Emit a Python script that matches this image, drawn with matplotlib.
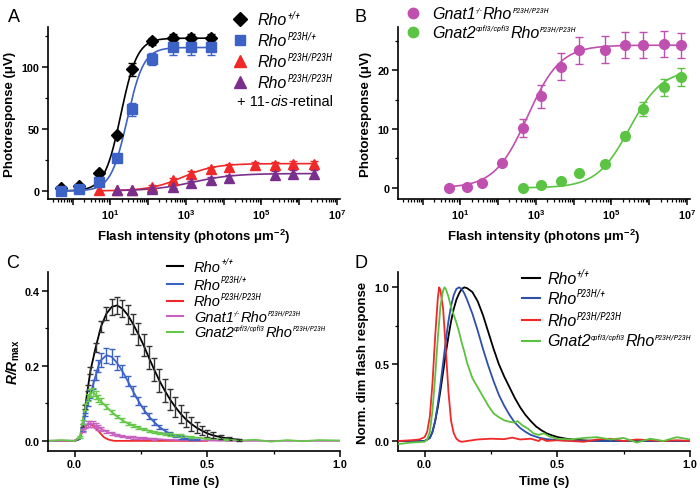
import numpy as np
import matplotlib
matplotlib.use("Agg")
import matplotlib.pyplot as plt
from matplotlib.lines import Line2D
from matplotlib.font_manager import FontProperties, fontManager
from matplotlib.ticker import LogLocator, FuncFormatter, FixedLocator, NullFormatter

plt.rcParams['font.family'] = ['Liberation Sans', 'DejaVu Sans']
plt.rcParams['font.weight'] = 'bold'
plt.rcParams['mathtext.fontset'] = 'custom'
plt.rcParams['mathtext.rm'] = 'Liberation Sans'
plt.rcParams['mathtext.it'] = 'Liberation Sans:italic'
plt.rcParams['mathtext.bf'] = 'Liberation Sans:bold'
plt.rcParams['mathtext.bfit'] = 'Liberation Sans:italic:bold'

# ---------------- Panel A data ----------------
intensity_A = [0.48, 1.45, 5, 15, 37, 126, 450, 1350, 4500]
black_A = [2.4, 3.8, 14.5, 45, 97.8, 120.5, 123, 123, 123]
black_A_err = [0, 0, 0, 2, 5, 3, 3, 3, 3]
blue_A = [0.3, 1.6, 7.5, 26.6, 65.6, 106, 115.5, 115.5, 115.5]
blue_A_err = [0, 0, 0, 2, 5, 5, 6, 6, 6]
intensity_red = [5, 15, 37, 126, 450, 1350, 4500, 13500, 66000, 2.3e5, 7e5, 2.4e6]
red_A = [0.5, 0.5, 0.5, 3.5, 9, 14, 17.5, 19.5, 21, 21, 22, 22]
red_A_err = [0, 0, 0, 1, 1.5, 2, 2, 2, 2, 2, 2, 2]
intensity_purple = [15, 37, 126, 450, 1350, 4500, 13500, 2.3e5, 7e5, 2.4e6]
purple_A = [0.5, 0.5, 1.5, 3.5, 6, 9, 10.5, 13, 13.5, 14]
purple_A_err = [0, 0, 1, 1.5, 2, 2.5, 2.5, 3, 3, 3]
# Hill fit parameters: (Rmax, I_half, n)
fit_black_A = (123, 19, 2.0)
fit_blue_A = (115.5, 28, 2.0)
fit_red_A = (22, 800, 1.0)
fit_purple_A = (14, 1500, 0.8)

# ---------------- Panel B data ----------------
intensity_B = [5, 15, 37, 126, 450, 1350, 4500, 13500, 66000, 2.3e5, 7e5, 2.4e6, 7e6]
magenta_B = [0.0, 0.1, 0.8, 4.3, 10.2, 15.6, 20.6, 23.4, 23.5, 24.3, 24.3, 24.5, 24.3]
magenta_B_err = [0, 0, 0, 0.4, 1.5, 2.0, 2.3, 2.3, 2.3, 2.2, 2.2, 2.2, 2.1]
intensity_green = [450, 1350, 4500, 13500, 66000, 2.3e5, 7e5, 2.4e6, 7e6]
green_B = [0.0, 0.5, 1.1, 2.5, 4.1, 8.8, 13.5, 17.1, 18.9]
green_B_err = [0, 0, 0, 0, 0.3, 0.7, 1.2, 1.5, 1.5]
fit_magenta_B = (24.3, 600, 1.0)
fit_green_B = (20.2, 3e5, 1.0)

# ---------------- Panel C data ----------------
tC_black = [-0.10, 0.00, 0.02, 0.03, 0.04, 0.05, 0.06, 0.08, 0.10, 0.12, 0.14, 0.16, 0.18, 0.20, 0.22, 0.24,
            0.26, 0.28, 0.30, 0.32, 0.34, 0.36, 0.38, 0.40, 0.42, 0.44, 0.46, 0.48, 0.50, 0.52, 0.55, 0.58, 0.62]
C_black = [0.0, 0.0, 0.005, 0.04, 0.09, 0.14, 0.187, 0.25, 0.305, 0.339, 0.357, 0.361, 0.353, 0.336, 0.312,
           0.285, 0.255, 0.222, 0.19, 0.16, 0.134, 0.11, 0.09, 0.072, 0.057, 0.045, 0.035, 0.027, 0.02, 0.015,
           0.01, 0.006, 0.003]
C_black_err = [0, 0, 0, 0.004, 0.006, 0.008, 0.01, 0.012, 0.015, 0.018, 0.021, 0.022, 0.023, 0.025, 0.027,
               0.029, 0.03, 0.031, 0.031, 0.031, 0.03, 0.029, 0.027, 0.024, 0.021, 0.018, 0.015, 0.012, 0.01,
               0.008, 0.006, 0.004, 0.003]
tC_blue = [-0.10, 0.00, 0.02, 0.03, 0.04, 0.05, 0.06, 0.07, 0.08, 0.09, 0.10, 0.12, 0.14, 0.16, 0.18, 0.20,
           0.22, 0.24, 0.26, 0.28, 0.30, 0.32, 0.34, 0.36, 0.38, 0.40, 0.42, 0.44, 0.46]
C_blue = [0.0, 0.0, 0.005, 0.03, 0.07, 0.1, 0.125, 0.15, 0.175, 0.2, 0.215, 0.228, 0.224, 0.208, 0.186, 0.16,
          0.133, 0.107, 0.084, 0.065, 0.05, 0.037, 0.027, 0.019, 0.013, 0.009, 0.006, 0.004, 0.003]
C_blue_err = [0, 0, 0, 0.003, 0.005, 0.008, 0.01, 0.012, 0.014, 0.016, 0.018, 0.02, 0.02, 0.018, 0.016, 0.014,
              0.013, 0.011, 0.01, 0.008, 0.007, 0.006, 0.005, 0.004, 0.003, 0.003, 0.002, 0.002, 0.002]
tC_red = [-0.10, 0.00, 0.02, 0.03, 0.04, 0.05, 0.06, 0.07, 0.08, 0.09, 0.10, 0.11, 0.12, 0.13, 0.15, 0.30, 0.50]
C_red = [0.0, 0.0, 0.01, 0.025, 0.038, 0.044, 0.045, 0.04, 0.033, 0.026, 0.018, 0.01, 0.006, 0.003, 0.0, 0.0, 0.0]
tC_magenta = [-0.10, 0.00, 0.02, 0.03, 0.04, 0.05, 0.06, 0.07, 0.08, 0.09, 0.10, 0.12, 0.14, 0.16, 0.18, 0.20,
              0.22, 0.24, 0.26, 0.28, 0.30, 0.35, 0.40, 0.50, 0.60, 0.80, 1.00]
C_magenta = [0.0, 0.0, 0.01, 0.028, 0.04, 0.045, 0.046, 0.044, 0.04, 0.036, 0.032, 0.025, 0.02, 0.016, 0.012,
             0.01, 0.009, 0.008, 0.007, 0.006, 0.005, 0.003, 0.002, 0.001, 0.0, 0.0, 0.0]
C_magenta_err = [0, 0, 0, 0.004, 0.006, 0.007, 0.008, 0.008, 0.007, 0.006, 0.005, 0.004, 0.004, 0.003, 0.003,
                 0.003, 0.003, 0.002, 0.002, 0.002, 0.002, 0, 0, 0, 0, 0, 0]
tC_green = [-0.10, -0.05, 0.00, 0.02, 0.03, 0.04, 0.05, 0.06, 0.07, 0.08, 0.09, 0.10, 0.12, 0.14, 0.16, 0.18,
            0.20, 0.22, 0.24, 0.26, 0.28, 0.30, 0.32, 0.34, 0.36, 0.38, 0.40, 0.44, 0.50, 0.57, 0.62, 0.68,
            0.74, 0.80, 0.86, 0.92, 1.00]
C_green = [0.0, 0.002, 0.0, 0.01, 0.05, 0.09, 0.115, 0.127, 0.13, 0.122, 0.113, 0.105, 0.091, 0.077, 0.065,
           0.055, 0.047, 0.041, 0.035, 0.031, 0.027, 0.024, 0.021, 0.019, 0.017, 0.016, 0.014, 0.01, 0.006,
           0.004, 0.001, 0.003, -0.002, 0.002, -0.001, 0.002, 0.001]
C_green_err = [0, 0, 0, 0.003, 0.006, 0.008, 0.01, 0.011, 0.011, 0.01, 0.009, 0.008, 0.007, 0.006, 0.005,
               0.005, 0.004, 0.004, 0.004, 0.003, 0.003, 0.003, 0.003, 0.003, 0.003, 0.003, 0.003, 0.003,
               0.002, 0.002, 0, 0, 0, 0, 0, 0, 0]

# ---------------- Panel D data ----------------
tD_black = [-0.10, 0.00, 0.02, 0.03, 0.04, 0.05, 0.06, 0.07, 0.08, 0.09, 0.10, 0.11, 0.12, 0.13, 0.14, 0.15,
            0.16, 0.18, 0.20, 0.22, 0.24, 0.26, 0.28, 0.30, 0.32, 0.34, 0.36, 0.38, 0.40, 0.42, 0.44, 0.46,
            0.48, 0.50, 0.53, 0.56, 0.60, 0.65, 0.70, 1.00]
D_black = [0.0, 0.0, 0.02, 0.06, 0.13, 0.22, 0.33, 0.45, 0.57, 0.68, 0.78, 0.86, 0.92, 0.96, 0.99, 1.0, 0.995,
           0.97, 0.91, 0.82, 0.71, 0.60, 0.50, 0.42, 0.35, 0.28, 0.22, 0.17, 0.13, 0.095, 0.07, 0.05, 0.037,
           0.026, 0.016, 0.009, 0.004, 0.001, 0.0, 0.0]
tD_blue = [-0.10, 0.00, 0.02, 0.03, 0.04, 0.05, 0.06, 0.07, 0.08, 0.09, 0.10, 0.11, 0.12, 0.13, 0.14, 0.15,
           0.16, 0.18, 0.20, 0.22, 0.24, 0.26, 0.28, 0.30, 0.32, 0.34, 0.36, 0.38, 0.40, 0.43, 0.46, 0.50,
           0.55, 0.60, 1.00]
D_blue = [0.0, 0.0, 0.02, 0.06, 0.13, 0.24, 0.37, 0.51, 0.65, 0.78, 0.88, 0.95, 0.99, 1.0, 0.99, 0.96, 0.92,
          0.83, 0.72, 0.60, 0.49, 0.39, 0.30, 0.23, 0.17, 0.12, 0.085, 0.06, 0.04, 0.022, 0.012, 0.006,
          0.002, 0.0, 0.0]
tD_red = [-0.10, -0.05, -0.02, 0.00, 0.01, 0.02, 0.03, 0.04, 0.05, 0.055, 0.06, 0.07, 0.08, 0.09, 0.10, 0.11,
          0.12, 0.13, 0.14, 0.16, 0.20, 0.25, 0.30, 0.33, 0.36, 0.40, 0.43, 0.44, 0.46, 0.50, 0.55, 0.60,
          0.65, 0.70, 0.75, 0.80, 0.85, 0.90, 0.95, 1.00]
D_red = [0.0, 0.005, 0.01, 0.025, 0.06, 0.16, 0.38, 0.68, 0.93, 1.0, 0.98, 0.86, 0.6, 0.32, 0.13, 0.05, 0.015,
         0.0, -0.005, 0.0, 0.01, 0.015, 0.012, 0.022, 0.01, 0.015, 0.0, 0.015, 0.0, 0.005, 0.0, -0.005, 0.01,
         0.015, 0.0, 0.01, 0.005, 0.0, 0.005, 0.0]
tD_green = [-0.10, -0.05, 0.00, 0.01, 0.02, 0.03, 0.04, 0.05, 0.06, 0.07, 0.075, 0.08, 0.09, 0.10, 0.11, 0.12,
            0.13, 0.14, 0.15, 0.16, 0.17, 0.18, 0.19, 0.20, 0.22, 0.24, 0.26, 0.28, 0.30, 0.32, 0.34, 0.35,
            0.37, 0.39, 0.41, 0.43, 0.45, 0.47, 0.50, 0.55, 0.60, 0.65, 0.70, 0.75, 0.80, 0.85, 0.90, 0.95, 1.00]
D_green = [-0.02, -0.01, -0.005, 0.01, 0.06, 0.2, 0.42, 0.67, 0.88, 0.98, 1.0, 0.99, 0.94, 0.87, 0.82, 0.77,
           0.71, 0.64, 0.58, 0.51, 0.46, 0.41, 0.38, 0.35, 0.29, 0.23, 0.18, 0.155, 0.135, 0.125, 0.12, 0.13,
           0.1, 0.08, 0.05, 0.04, 0.05, 0.03, 0.015, 0.01, 0.02, 0.025, 0.01, 0.02, -0.01, 0.015, 0.0, 0.025, 0.01]

# ---------------- colours ----------------
C_BLACK = '#000000'
C_BLUE = '#3d62c6'
C_RED = '#f02828'
C_PURPLE = '#7b2f8c'
C_MAGENTA = '#c050b0'
C_GREEN = '#5cc444'
C_MAG_C = '#c860c0'
C_GRN_C = '#66c84a'
D_BLUE_COL = '#2f4fa8'
D_GREEN = '#5cc040'

W, H = 700, 489
fig = plt.figure(figsize=(7.0, 4.89), dpi=100)
renderer = fig.canvas.get_renderer()


def find_narrow_italic():
    best, best_rank = None, 99
    order = ['Liberation Sans Narrow', 'Roboto Condensed', 'Open Sans Condensed', 'Noto Sans', 'DejaVu Sans']
    for f in fontManager.ttflist:
        st = f.stretch
        cond = ('Narrow' in f.name or 'Condensed' in f.name or
                st in ('condensed', 'semi-condensed', 'extra-condensed', 'ultra-condensed') or
                (isinstance(st, (int, float)) and st < 500))
        w = f.weight
        light_ok = (w in ('normal', 'regular', 'book', 'medium')) or (isinstance(w, (int, float)) and 350 <= w <= 500)
        if cond and f.style in ('italic', 'oblique') and light_ok:
            rank = next((i for i, n in enumerate(order) if f.name.startswith(n)), 50)
            if rank < best_rank:
                best, best_rank = f.fname, rank
    return best


NARROW_FILE = find_narrow_italic()


def sup_props(size):
    if NARROW_FILE:
        return FontProperties(fname=NARROW_FILE, size=size)
    return FontProperties(family='Liberation Sans', style='italic', weight='normal', size=size * 0.85)


def ax_px(left, top, right, bottom):
    return fig.add_axes([left / W, 1 - bottom / H, (right - left) / W, (bottom - top) / H])


def style_ax(ax):
    for s in ['top', 'right']:
        ax.spines[s].set_visible(False)
    for s in ['left', 'bottom']:
        ax.spines[s].set_linewidth(1.2)
    ax.tick_params(which='major', direction='out', length=4, width=1.1, labelsize=7.8, pad=2)
    ax.tick_params(which='minor', direction='out', length=2.2, width=0.9)


def hill(I, p):
    rmax, ih, n = p
    I = np.asarray(I, dtype=float)
    return rmax * I ** n / (I ** n + ih ** n)


def log_fmt(v, pos):
    e = int(round(np.log10(v)))
    if e % 2 == 1:
        return r'$\mathbf{10^{%d}}$' % e
    return ''


def log_axis(ax):
    ax.set_xscale('log')
    ax.set_xlim(10 ** -0.65, 10 ** 7.08)
    ax.xaxis.set_major_locator(FixedLocator([10.0 ** k for k in range(0, 8)]))
    ax.xaxis.set_major_formatter(FuncFormatter(log_fmt))
    ax.xaxis.set_minor_locator(LogLocator(base=10, subs=np.arange(2, 10), numticks=30))
    ax.xaxis.set_minor_formatter(NullFormatter())
    ax.set_xlabel(r'Flash intensity (photons μm$^{\mathbf{-2}}$)', fontsize=9.5, fontweight='bold', labelpad=4)


def fig_marker(xp, yp, **kw):
    fig.add_artist(Line2D([xp / W], [1 - yp / H], transform=fig.transFigure, linestyle='none', **kw))


def fig_line(x0, x1, yp, **kw):
    fig.add_artist(Line2D([x0 / W, x1 / W], [1 - yp / H, 1 - yp / H], transform=fig.transFigure, **kw))


def rich(xp, yb, pieces, fs):
    """pieces: (text, kind): 'i' italic, 'r' regular, 's' superscript, 't' small superscript"""
    raise_px = fs * 0.58
    x = xp
    for s, kind in pieces:
        if kind in ('s', 't'):
            size = fs * (0.62 if kind == 's' else 0.5)
            t = fig.text(x / W, 1 - (yb - raise_px) / H, s, fontproperties=sup_props(size),
                         va='baseline', ha='left')
        else:
            t = fig.text(x / W, 1 - yb / H, s, fontsize=fs, style='italic' if kind == 'i' else 'normal',
                         weight='normal', va='baseline', ha='left')
        bb = t.get_window_extent(renderer)
        x = bb.x1 + 0.3


def err_plot(ax, x, y, e, color, capsize=3):
    x = np.asarray(x); y = np.asarray(y); e = np.asarray(e)
    m = e > 0
    ax.errorbar(x[m], y[m], yerr=e[m], fmt='none', ecolor=color, elinewidth=1.0, capsize=capsize,
                capthick=1.0, zorder=3)


L_RHO_WT = [('Rho', 'i'), ('+/+', 's')]
L_RHO_HET = [('Rho', 'i'), ('P23H/+', 's')]
L_RHO_HOM = [('Rho', 'i'), ('P23H/P23H', 's')]
L_GNAT1 = [('Gnat1', 'i'), ('-/-', 't'), ('Rho', 'i'), ('P23H/P23H', 't')]
L_GNAT2 = [('Gnat2', 'i'), ('cpfl3/cpfl3', 't'), ('Rho', 'i'), ('P23H/P23H', 't')]

# ================= Panel A =================
axA = ax_px(48, 28, 340, 200)
log_axis(axA)
axA.set_ylim(-6.5, 132)
axA.yaxis.set_major_locator(FixedLocator([0, 50, 100]))
axA.yaxis.set_minor_locator(FixedLocator([25, 75, 125]))
axA.set_ylabel('Photoresponse (μV)', fontsize=9.5, fontweight='bold', labelpad=4)

xf = np.logspace(np.log10(intensity_A[0]), np.log10(intensity_A[-1]), 300)
axA.plot(xf, hill(xf, fit_black_A), color=C_BLACK, lw=1.2, zorder=2)
axA.plot(xf, hill(xf, fit_blue_A), color=C_BLUE, lw=1.2, zorder=2)
xf2 = np.logspace(np.log10(intensity_red[0]), np.log10(intensity_red[-1]), 300)
axA.plot(xf2, hill(xf2, fit_red_A), color=C_RED, lw=1.2, zorder=2)
xf3 = np.logspace(np.log10(intensity_purple[0]), np.log10(intensity_purple[-1]), 300)
axA.plot(xf3, hill(xf3, fit_purple_A), color=C_PURPLE, lw=1.2, zorder=2)

err_plot(axA, intensity_red, red_A, red_A_err, C_RED)
axA.plot(intensity_red, red_A, ls='none', marker='^', ms=7.5, color=C_RED, mec=C_RED, zorder=4)
err_plot(axA, intensity_purple, purple_A, purple_A_err, C_PURPLE)
axA.plot(intensity_purple, purple_A, ls='none', marker='^', ms=7.5, color=C_PURPLE, mec=C_PURPLE, zorder=4)
err_plot(axA, intensity_A, black_A, black_A_err, C_BLACK)
axA.plot(intensity_A, black_A, ls='none', marker='D', ms=6.5, color=C_BLACK, zorder=4)
err_plot(axA, intensity_A, blue_A, blue_A_err, C_BLUE)
axA.plot(intensity_A, blue_A, ls='none', marker='s', ms=6.5, color=C_BLUE, mec=C_BLUE, zorder=5)
style_ax(axA)

leg_fs = 11.5
fig_marker(240, 20, marker='D', ms=7, color=C_BLACK)
rich(258, 25, L_RHO_WT, leg_fs)
fig_marker(240, 41, marker='s', ms=6.5, color=C_BLUE)
rich(258, 46, L_RHO_HET, leg_fs)
fig_marker(240, 62, marker='^', ms=8, color=C_RED)
rich(258, 67, L_RHO_HOM, leg_fs)
fig_marker(240, 83, marker='^', ms=8, color=C_PURPLE)
rich(258, 88, L_RHO_HOM, leg_fs)
rich(237, 106, [('+ 11-', 'r'), ('cis', 'i'), ('-retinal', 'r')], 10.5)

# ================= Panel B =================
axB = ax_px(398, 28, 690, 200)
log_axis(axB)
axB.set_ylim(-1.9, 27.4)
axB.yaxis.set_major_locator(FixedLocator([0, 10, 20]))
axB.yaxis.set_minor_locator(FixedLocator([5, 15, 25]))
axB.set_ylabel('Photoresponse (μV)', fontsize=9.5, fontweight='bold', labelpad=4)
xb = np.logspace(np.log10(intensity_B[0]), np.log10(intensity_B[-1]), 300)
axB.plot(xb, hill(xb, fit_magenta_B), color=C_MAGENTA, lw=1.2, zorder=2)
xg = np.logspace(np.log10(intensity_green[0]), np.log10(intensity_green[-1]), 300)
axB.plot(xg, hill(xg, fit_green_B), color=C_GREEN, lw=1.2, zorder=2)
err_plot(axB, intensity_B, magenta_B, magenta_B_err, C_MAGENTA)
axB.plot(intensity_B, magenta_B, ls='none', marker='o', ms=7, color=C_MAGENTA, zorder=4)
err_plot(axB, intensity_green, green_B, green_B_err, C_GREEN)
axB.plot(intensity_green, green_B, ls='none', marker='o', ms=7, color=C_GREEN, zorder=4)
style_ax(axB)

fig_marker(413, 14, marker='o', ms=7.5, color=C_MAGENTA)
rich(432, 19, L_GNAT1, leg_fs)
fig_marker(413, 33, marker='o', ms=7.5, color=C_GREEN)
rich(432, 38, L_GNAT2, leg_fs)

# ================= Panel C =================
axC = ax_px(48, 273, 340, 452)
axC.set_xlim(-0.1, 1.0)
axC.set_ylim(-0.027, 0.45)
axC.xaxis.set_major_locator(FixedLocator([0, 0.5, 1.0]))
axC.xaxis.set_minor_locator(FixedLocator([0.25, 0.75]))
axC.yaxis.set_major_locator(FixedLocator([0, 0.2, 0.4]))
axC.yaxis.set_minor_locator(FixedLocator([0.1, 0.3]))
axC.xaxis.set_major_formatter(FuncFormatter(lambda v, p: '%.1f' % v))
axC.yaxis.set_major_formatter(FuncFormatter(lambda v, p: '%.1f' % v))
axC.set_xlabel('Time (s)', fontsize=9.5, fontweight='bold', labelpad=4)
axC.set_ylabel(r'$\mathbfit{R/R}_{\mathbf{max}}$', fontsize=10, labelpad=2)

axC.plot(tC_black, C_black, color=C_BLACK, lw=1.3, zorder=2)
err_plot(axC, tC_black, C_black, C_black_err, '#333333', capsize=2.5)
axC.plot(tC_blue, C_blue, color=C_BLUE, lw=1.3, zorder=2)
err_plot(axC, tC_blue, C_blue, C_blue_err, C_BLUE, capsize=2.5)
axC.plot(tC_red, C_red, color=C_RED, lw=1.3, zorder=2)
axC.plot(tC_magenta, C_magenta, color=C_MAG_C, lw=1.3, zorder=2)
err_plot(axC, tC_magenta, C_magenta, C_magenta_err, C_MAG_C, capsize=2.5)
axC.plot(tC_green, C_green, color=C_GRN_C, lw=1.3, zorder=2)
err_plot(axC, tC_green, C_green, C_green_err, C_GRN_C, capsize=2.5)
style_ax(axC)

legC_fs = 10.5
rowsC = [(267, C_BLACK, L_RHO_WT), (285, C_BLUE, L_RHO_HET), (301.5, C_RED, L_RHO_HOM),
         (317, C_MAG_C, L_GNAT1), (332.5, C_GRN_C, L_GNAT2)]
for y, c, pcs in rowsC:
    fig_line(167, 183, y, color=c, lw=1.5)
    rich(194, y + 4.5, pcs, legC_fs)

# ================= Panel D =================
axD = ax_px(398, 273, 690, 452)
axD.set_xlim(-0.1, 1.0)
axD.set_ylim(-0.065, 1.1)
axD.xaxis.set_major_locator(FixedLocator([0, 0.5, 1.0]))
axD.xaxis.set_minor_locator(FixedLocator([0.25, 0.75]))
axD.yaxis.set_major_locator(FixedLocator([0, 0.5, 1.0]))
axD.yaxis.set_minor_locator(FixedLocator([0.25, 0.75]))
axD.xaxis.set_major_formatter(FuncFormatter(lambda v, p: '%.1f' % v))
axD.yaxis.set_major_formatter(FuncFormatter(lambda v, p: '%.1f' % v))
axD.set_xlabel('Time (s)', fontsize=9.5, fontweight='bold', labelpad=4)
axD.set_ylabel('Norm. dim flash response', fontsize=9.5, fontweight='bold', labelpad=4)
axD.plot(tD_black, D_black, color=C_BLACK, lw=1.3, zorder=2)
axD.plot(tD_blue, D_blue, color=D_BLUE_COL, lw=1.3, zorder=2)
axD.plot(tD_red, D_red, color=C_RED, lw=1.3, zorder=3)
axD.plot(tD_green, D_green, color=D_GREEN, lw=1.3, zorder=4)
style_ax(axD)

legD_fs = 11.5
rowsD = [(278.5, C_BLACK, L_RHO_WT), (298.5, D_BLUE_COL, L_RHO_HET), (321, C_RED, L_RHO_HOM),
         (341.5, D_GREEN, L_GNAT2)]
for y, c, pcs in rowsD:
    fig_line(522, 540, y, color=c, lw=1.5)
    rich(547, y + 5, pcs, legD_fs)

# panel letters
for xp, yp, s in [(8, 22, 'A'), (355, 22, 'B'), (6, 268, 'C'), (355, 268, 'D')]:
    fig.text(xp / W, 1 - yp / H, s, fontsize=13, weight='normal')

fig.savefig('out.png', dpi=100)
